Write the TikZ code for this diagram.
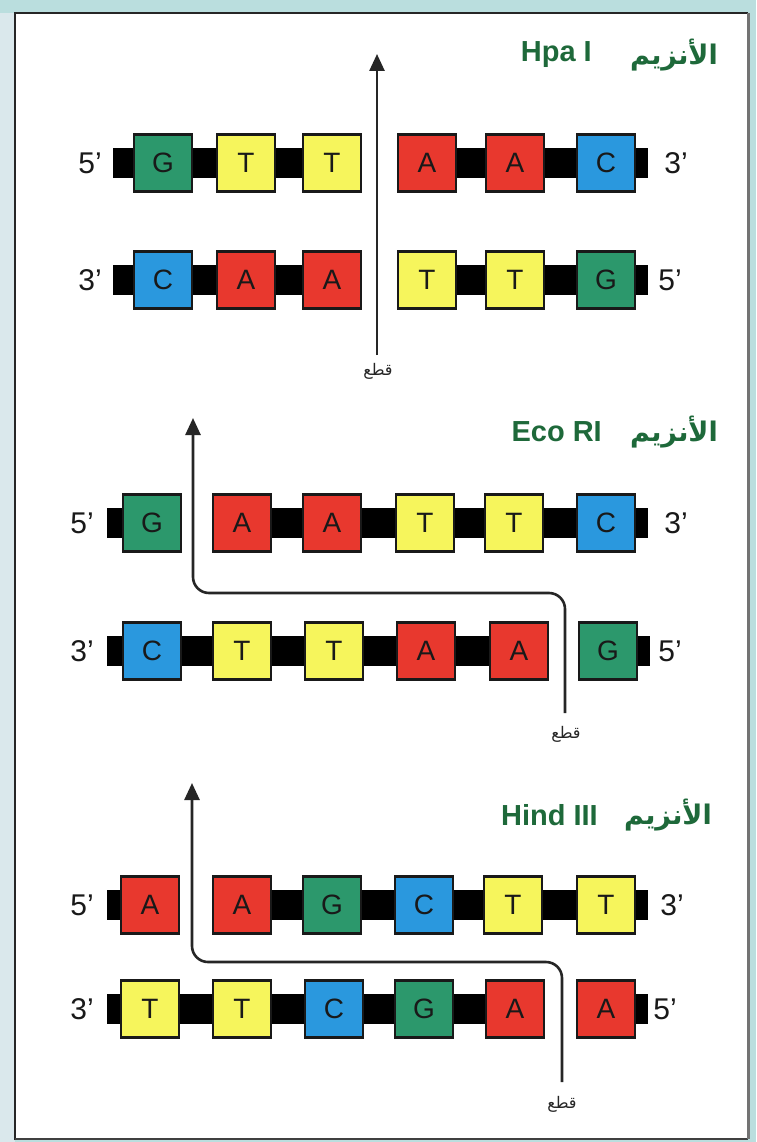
\documentclass[tikz,border=0pt]{standalone}
\usepackage{fontspec}
\setmainfont{Liberation Sans}
\newfontfamily\arabicfont[Script=Arabic]{DejaVu Sans}
\TeXXeTstate=1
\usetikzlibrary{arrows.meta}
\definecolor{bgteal}{RGB}{186,222,222}
\definecolor{bgside}{RGB}{218,232,236}
\definecolor{ttlgreen}{RGB}{30,105,58}
\definecolor{ngreen}{RGB}{44,152,108}
\definecolor{nyellow}{RGB}{246,245,92}
\definecolor{nred}{RGB}{232,56,46}
\definecolor{nblue}{RGB}{42,152,222}
\tikzset{
  nuc/.style={draw=black!90, line width=2.2pt, minimum width=58pt, minimum height=57pt,
    inner sep=0pt, font=\fontsize{28}{30}\selectfont, text=black!90},
  nucA/.style={nuc, fill=nred},
  nucT/.style={nuc, fill=nyellow},
  nucG/.style={nuc, fill=ngreen},
  nucC/.style={nuc, fill=nblue},
  endlab/.style={font=\fontsize{30}{32}\selectfont, text=black!90, inner sep=0pt},
  ttl/.style={font=\fontsize{29}{31}\selectfont\bfseries, text=ttlgreen, inner sep=0pt, anchor=east},
  ttlar/.style={font=\fontsize{27}{31}\arabicfont\bfseries, text=ttlgreen, inner sep=0pt, anchor=east},
  cutlab/.style={font=\fontsize{16}{18}\arabicfont, text=black!85, inner sep=0pt},
  cutarrow/.style={draw=black!85, line width=2.6pt, -{Triangle[width=15pt,length=17pt]}, rounded corners=16pt},
  backbone/.style={fill=black}
}
\begin{document}
\begin{tikzpicture}[x=1pt,y=-1pt]
\useasboundingbox (0,0) rectangle (756,1142);
% frame
\fill[bgteal] (0,0) rectangle (756,1142);
\fill[bgside] (0,13) rectangle (15,1142);
\fill[white] (15,13) rectangle (748,1139);
\draw[black!85, line width=2.5pt] (15,1140) -- (15,13) -- (748,13);
\draw[black!75, line width=1.8pt] (15,1139) -- (748,1139);
\draw[black!55, line width=3pt] (748,13) -- (748,1139);

% ===== Hpa I =====
\node[ttlar] (t1ar) at (718,55) {\beginR الأنزيم\endR};
\node[ttl] (t1) at (592,55) {Hpa I};
% row 1
\fill[backbone] (113,148) rectangle (360,178);
\fill[backbone] (400,148) rectangle (648,178);
\foreach \x/\l [count=\i] in {163/G,246/T,332/T,427/A,515/A,606/C}
  \node[nuc\l] (ra\i) at (\x,163) {\l};
\node[endlab] (ra5) at (90,163) {5'};
\node[endlab] (ra3) at (676,163) {3'};
% row 2
\fill[backbone] (113,265) rectangle (360,295);
\fill[backbone] (400,265) rectangle (648,295);
\foreach \x/\l [count=\i] in {163/C,246/A,332/A,427/T,515/T,606/G}
  \node[nuc\l] (rb\i) at (\x,280) {\l};
\node[endlab] (rb3) at (90,280) {3'};
\node[endlab] (rb5) at (670,280) {5'};
% cut
\coordinate (ca0) at (377,355);
\coordinate (ca1) at (377,54);
\draw[cutarrow] (ca0) -- (ca1);
\node[cutlab] (cla) at (378,371) {\beginR قطع\endR};

% ===== Eco RI =====
\node[ttlar] (t2ar) at (718,432) {\beginR الأنزيم\endR};
\node[ttl] (t2) at (602,432) {Eco RI};
% row 3
\fill[backbone] (107,508) rectangle (180,538);
\fill[backbone] (215,508) rectangle (648,538);
\foreach \x/\l [count=\i] in {152/G,242/A,332/A,425/T,514/T,606/C}
  \node[nuc\l] (rc\i) at (\x,523) {\l};
\node[endlab] (rc5) at (82,523) {5'};
\node[endlab] (rc3) at (676,523) {3'};
% row 4
\fill[backbone] (107,636) rectangle (545,666);
\fill[backbone] (583,636) rectangle (650,666);
\foreach \x/\l [count=\i] in {152/C,242/T,334/T,426/A,519/A,608/G}
  \node[nuc\l] (rd\i) at (\x,651) {\l};
\node[endlab] (rd3) at (82,651) {3'};
\node[endlab] (rd5) at (670,651) {5'};
% cut
\coordinate (cb0) at (565,713);
\coordinate (cbm) at (193,593);
\coordinate (cb1) at (193,418);
\draw[cutarrow] (cb0) |- (cbm) -- (cb1);
\node[cutlab] (clb) at (566,734) {\beginR قطع\endR};

% ===== Hind III =====
\node[ttlar] (t3ar) at (712,815) {\beginR الأنزيم\endR};
\node[ttl] (t3) at (598,815) {Hind III};
% row 5
\fill[backbone] (107,890) rectangle (178,920);
\fill[backbone] (215,890) rectangle (648,920);
\foreach \x/\l [count=\i] in {150/A,242/A,332/G,424/C,513/T,606/T}
  \node[nuc\l] (re\i) at (\x,905) {\l};
\node[endlab] (re5) at (82,905) {5'};
\node[endlab] (re3) at (672,905) {3'};
% row 6
\fill[backbone] (107,994) rectangle (541,1024);
\fill[backbone] (580,994) rectangle (648,1024);
\foreach \x/\l [count=\i] in {150/T,242/T,334/C,424/G,515/A,606/A}
  \node[nuc\l] (rf\i) at (\x,1009) {\l};
\node[endlab] (rf3) at (82,1009) {3'};
\node[endlab] (rf5) at (665,1009) {5'};
% cut
\coordinate (cc0) at (562,1082);
\coordinate (ccm) at (192,962);
\coordinate (cc1) at (192,783);
\draw[cutarrow] (cc0) |- (ccm) -- (cc1);
\node[cutlab] (clc) at (562,1104) {\beginR قطع\endR};
\end{tikzpicture}
\end{document}
